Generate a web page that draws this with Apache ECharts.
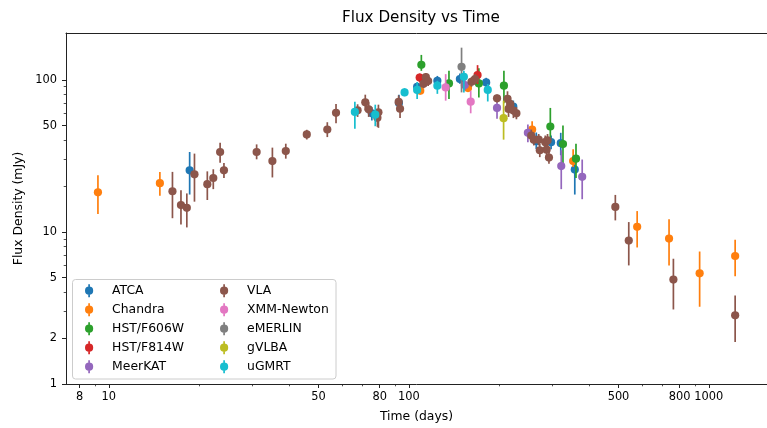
<!DOCTYPE html>
<html>
<head>
<meta charset="utf-8">
<script src="https://cdn.jsdelivr.net/npm/echarts@6/dist/echarts.min.js"></script>
<style>
  html, body { margin: 0; padding: 0; background: #fff; }
  #chart { width: 767px; height: 428px; }
</style>
</head>
<body>
<div id="chart"></div>
<script>
// Each point: [time (days), flux density (mJy), lower error bound, upper error bound]
const atca = [
  [18.6, 25.4, 17.6, 33.5], [75.3, 60.2, 54.0, 66.0], [92.7, 70.4, 62.7, 79.8],
  [106.6, 90.0, 85.0, 96.0], [124.5, 98.5, 91.4, 106.0], [148.0, 101.1, 94.0, 110.0],
  [181.1, 96.0, 89.0, 103.0], [223.0, 66.6, 60.0, 73.0], [266.0, 39.5, 35.0, 45.0],
  [298.0, 38.9, 35.0, 43.0], [321.0, 38.3, 31.9, 44.8], [357.5, 25.7, 17.6, 29.9]
];
const chandra = [
  [9.2, 18.2, 13.1, 23.6], [14.8, 20.9, 17.3, 24.8], [109.2, 84.7, 80.0, 90.0],
  [157.5, 88.2, 84.0, 93.0], [257.7, 47.1, 43.0, 53.4], [353.0, 29.2, 26.7, 34.9],
  [577.0, 10.8, 7.9, 13.7], [737.0, 9.04, 6.02, 12.1], [932.0, 5.34, 3.22, 7.43],
  [1224.0, 6.94, 5.10, 8.87]
];
const hstF606W = [
  [110.1, 125.3, 114.5, 145.7], [136.1, 94.6, 74.8, 114.5], [171.2, 94.6, 76.6, 119.2],
  [207.5, 91.4, 70.0, 114.5], [296.3, 49.3, 38.6, 65.3], [326.5, 37.8, 26.1, 50.0],
  [360.8, 30.3, 22.6, 38.0]
];
const hstF814W = [
  [108.7, 103.5, 96.0, 110.0], [169.5, 107.3, 93.7, 124.8]
];
const meerkat = [
  [153.7, 92.3, 85.0, 100.0], [196.8, 65.3, 55.4, 71.1], [249.4, 44.8, 38.9, 50.8],
  [322.2, 27.1, 19.1, 34.4], [378.4, 23.0, 16.4, 29.9]
];
const vla = [
  [16.3, 18.5, 12.3, 24.8], [17.4, 15.0, 11.2, 18.8], [18.2, 14.4, 10.7, 17.9],
  [19.3, 23.9, 15.8, 32.7], [21.3, 20.6, 16.2, 25.0], [22.3, 22.6, 19.1, 25.8],
  [23.5, 33.5, 28.5, 38.6], [24.2, 25.4, 22.6, 28.4], [31.1, 33.5, 30.0, 37.6],
  [35.1, 29.2, 22.8, 35.8], [38.9, 34.0, 30.3, 38.0], [45.7, 43.7, 40.5, 46.9],
  [53.5, 47.1, 42.0, 52.6], [57.2, 60.6, 51.8, 69.4], [67.5, 63.0, 57.0, 69.0],
  [71.6, 71.1, 62.7, 79.8], [73.5, 63.9, 57.0, 71.0], [78.6, 56.2, 49.0, 63.0],
  [79.2, 61.1, 48.3, 68.6], [92.5, 71.5, 64.0, 79.0], [93.5, 64.5, 56.0, 72.0],
  [112.0, 94.0, 88.0, 100.0], [114.0, 104.0, 97.0, 111.0], [116.0, 98.0, 91.0, 105.0],
  [161.8, 97.0, 90.0, 104.0], [166.2, 101.1, 93.0, 109.0], [196.8, 75.5, 71.0, 80.0],
  [213.3, 74.8, 66.0, 84.0], [217.7, 69.4, 61.0, 78.0], [215.0, 64.3, 57.0, 72.0],
  [223.2, 62.7, 56.0, 70.0], [228.4, 60.2, 55.0, 66.0], [256.0, 43.0, 39.0, 47.0],
  [261.0, 40.4, 37.0, 44.0], [271.0, 40.4, 37.0, 44.0], [273.3, 34.4, 31.0, 38.0],
  [285.0, 38.9, 35.0, 43.0], [290.0, 39.9, 36.0, 44.0], [288.0, 34.7, 31.0, 38.5],
  [293.2, 30.8, 28.0, 34.0], [488.0, 14.6, 11.9, 17.5], [541.0, 8.77, 6.02, 11.6],
  [762.0, 4.86, 3.09, 6.66], [1224.0, 2.83, 1.89, 3.82]
];
const xmmNewton = [
  [132.7, 89.1, 72.9, 108.9], [160.8, 71.8, 60.2, 84.7]
];
const emerlin = [
  [149.9, 121.6, 82.6, 162.6]
];
const gvlba = [
  [207.0, 55.9, 40.4, 72.9]
];
const ugmrt = [
  [66.1, 61.5, 47.6, 71.8], [77.3, 59.0, 49.5, 68.6], [96.8, 82.6, 78.0, 88.0],
  [106.6, 85.7, 74.8, 96.5], [124.5, 91.4, 80.8, 98.5], [152.6, 104.7, 82.6, 114.5],
  [183.3, 85.7, 72.0, 93.7]
];

const instrumentNames = ['ATCA', 'Chandra', 'HST/F606W', 'HST/F814W', 'MeerKAT',
                         'VLA', 'XMM-Newton', 'eMERLIN', 'gVLBA', 'uGMRT'];
const instrumentData = [atca, chandra, hstF606W, hstF814W, meerkat,
                        vla, xmmNewton, emerlin, gvlba, ugmrt];
const palette = ['#1f77b4', '#ff7f0e', '#2ca02c', '#d62728', '#9467bd',
                 '#8c564b', '#e377c2', '#7f7f7f', '#bcbd22', '#17becf'];

// Axis ticks
const xMajorTicks = [8, 10, 50, 80, 100, 500, 800, 1000];
const xMinorTicks = [9, 20, 30, 40, 60, 70, 90, 200, 300, 400, 600, 700, 900];
const yMajorTicks = [1, 2, 5, 10, 50, 100];
const yMinorTicks = [3, 4, 6, 7, 8, 9, 20, 30, 40, 60, 70, 80, 90];

const X_MIN = 7.2, X_MAX = 1563, Y_MIN = 1, Y_MAX = 203;
const FONT = 'DejaVu Sans';
const AXIS_COLOR = '#222';

// errorbar-style legend glyph: vertical bar through a filled circle
const ERR_ICON = 'path://M3.25,0 h1.7 v13 h-1.7 z M0,6.5 a4.1,4.1 0 1,1 8.2,0 a4.1,4.1 0 1,1 -8.2,0 z';

function errorbarSeries(name, data, color) {
  return {
    type: 'custom',
    name: name,
    data: data,
    encode: { x: 0, y: 1 },
    itemStyle: { color: color },
    renderItem: function (params, api) {
      const t = api.value(0), f = api.value(1), lo = api.value(2), hi = api.value(3);
      const c = api.coord([t, f]);
      const a = api.coord([t, lo]);
      const b = api.coord([t, hi]);
      return {
        type: 'group',
        children: [
          { type: 'line', shape: { x1: a[0], y1: a[1], x2: b[0], y2: b[1] },
            style: { stroke: color, lineWidth: 1.7 } },
          { type: 'circle', shape: { cx: c[0], cy: c[1], r: 4.1 },
            style: { fill: color } }
        ]
      };
    }
  };
}

function logAxis(extra) {
  return Object.assign({
    type: 'log',
    logBase: 10,
    splitLine: { show: false },
    axisLine: { show: false },
    axisTick: { show: false },
    axisLabel: { show: false }
  }, extra);
}

const plainNumber = v => String(Math.round(v));

const chart = echarts.init(document.getElementById('chart'), null, { renderer: 'canvas' });

const legendCommon = {
  orient: 'vertical',
  padding: 0,
  itemWidth: 18,
  itemHeight: 13,
  itemGap: 5,
  icon: ERR_ICON,
  symbolKeepAspect: true,
  textStyle: { fontFamily: FONT, fontSize: 12.4, color: '#000', lineHeight: 14, padding: [0, 0, 0, 9] },
  selectedMode: false,
  z: 10
};

chart.setOption({
  animation: false,
  color: palette,
  title: {
    text: 'Flux Density vs Time',
    left: 342,
    top: 11,
    padding: 0,
    textStyle: { fontFamily: FONT, fontSize: 15.2, fontWeight: 'normal', color: '#000' }
  },
  grid: { left: 66, top: 33, width: 710, height: 352, containLabel: false },
  xAxis: [
    logAxis({
      min: X_MIN, max: X_MAX, position: 'bottom',
      name: 'Time (days)', nameLocation: 'middle', nameGap: 27,
      nameTextStyle: { fontFamily: FONT, fontSize: 12.4, color: '#000' },
      axisLine: { show: true, lineStyle: { color: AXIS_COLOR, width: 1 } },
      axisTick: { show: true, customValues: xMajorTicks, length: 4, lineStyle: { color: AXIS_COLOR, width: 1 } },
      axisLabel: { show: true, customValues: xMajorTicks, margin: 8, formatter: plainNumber,
        fontFamily: FONT, fontSize: 11.4, color: '#000' }
    }),
    logAxis({
      min: X_MIN, max: X_MAX, position: 'bottom', offset: 0,
      axisTick: { show: true, customValues: xMinorTicks, length: 2.3, lineStyle: { color: AXIS_COLOR, width: 0.8 } }
    }),
    logAxis({
      min: X_MIN, max: X_MAX, position: 'top', offset: 0,
      axisLine: { show: true, lineStyle: { color: AXIS_COLOR, width: 1 } }
    })
  ],
  yAxis: [
    logAxis({
      min: Y_MIN, max: Y_MAX, position: 'left',
      name: 'Flux Density (mJy)', nameLocation: 'middle', nameGap: 37,
      nameTextStyle: { fontFamily: FONT, fontSize: 12.4, color: '#000' },
      axisLine: { show: true, lineStyle: { color: AXIS_COLOR, width: 1 } },
      axisTick: { show: true, customValues: yMajorTicks, length: 4, lineStyle: { color: AXIS_COLOR, width: 1 } },
      axisLabel: { show: true, customValues: yMajorTicks, margin: 9, formatter: plainNumber,
        fontFamily: FONT, fontSize: 11.4, color: '#000' }
    }),
    logAxis({
      min: Y_MIN, max: Y_MAX, position: 'left', offset: 0,
      axisTick: { show: true, customValues: yMinorTicks, length: 2.3, lineStyle: { color: AXIS_COLOR, width: 0.8 } }
    })
  ],
  legend: [
    Object.assign({}, legendCommon, { left: 85, top: 283.7, data: instrumentNames.slice(0, 5) }),
    Object.assign({}, legendCommon, { left: 220, top: 283.7, data: instrumentNames.slice(5) })
  ],
  graphic: [{
    type: 'rect',
    shape: { x: 72.5, y: 279.5, width: 263.5, height: 99.5, r: 3 },
    style: { fill: 'rgba(255,255,255,0.8)', stroke: '#cccccc', lineWidth: 1 },
    z: 5
  }],
  series: instrumentNames.map((n, i) => errorbarSeries(n, instrumentData[i], palette[i]))
});
</script>
</body>
</html>
